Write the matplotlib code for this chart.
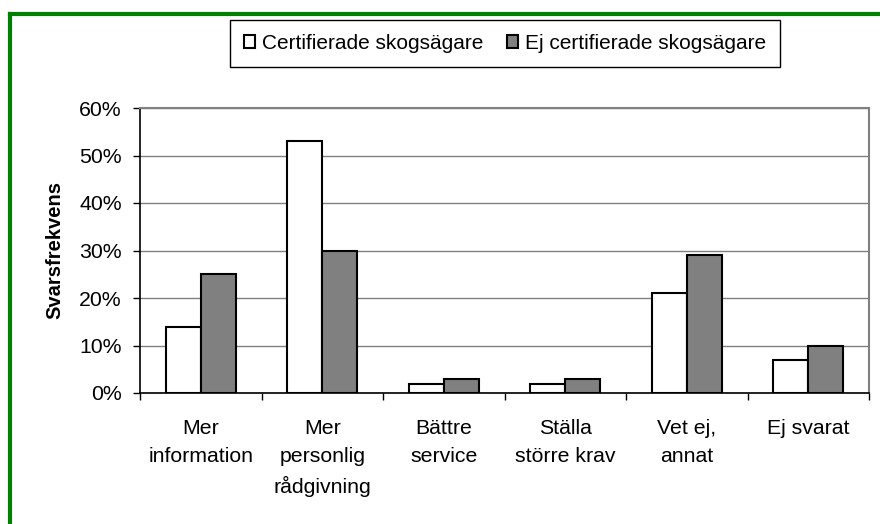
import matplotlib
matplotlib.use("Agg")
import matplotlib.pyplot as plt
import numpy as np
from matplotlib.lines import Line2D
from matplotlib.ticker import FixedLocator, PercentFormatter

categories = ["Mer\ninformation", "Mer\npersonlig\nrådgivning", "Bättre\nservice",
              "Ställa\nstörre krav", "Vet ej,\nannat", "Ej svarat"]
certified = [14, 53, 2, 2, 21, 7]
not_certified = [25, 30, 3, 3, 29, 10]
series_names = ["Certifierade skogsägare", "Ej certifierade skogsägare"]
y_ticks = [0, 10, 20, 30, 40, 50, 60]

plt.rcParams['font.family'] = ['Liberation Sans', 'DejaVu Sans']

fig = plt.figure(figsize=(8.8, 5.24), dpi=100)
ax = fig.add_axes([140/880, 1-393/524, (869-140)/880, (393-108)/524])

x = np.arange(len(categories))
w = 0.288
b1 = ax.bar(x - w/2, certified, w, color="white", edgecolor="black", linewidth=1.5,
            label=series_names[0], zorder=3)
b2 = ax.bar(x + w/2, not_certified, w, color="#808080", edgecolor="black", linewidth=1.5,
            label=series_names[1], zorder=3)

ax.set_xlim(-0.5, len(categories) - 0.5)
ax.set_ylim(0, 60)
ax.yaxis.set_major_locator(FixedLocator(y_ticks))
ax.yaxis.set_major_formatter(PercentFormatter(decimals=0))
ax.yaxis.grid(True, color="#808080", linewidth=1, zorder=0)

ax.set_xticks(x)
ax.set_xticklabels(categories, fontsize=15.3, linespacing=1.58, va="top")
ax.tick_params(axis="x", which="major", length=0, pad=19)
ax.set_xticks(np.arange(-0.5, len(categories)), minor=True)
ax.tick_params(axis="x", which="minor", length=5, width=1, color="black", direction="out")
ax.tick_params(axis="y", length=5, width=1, pad=8, labelsize=15.3, direction="out")

for s in ["top", "right"]:
    ax.spines[s].set_color("#808080")
    ax.spines[s].set_linewidth(1.5)
ax.spines["left"].set_color("black")
ax.spines["bottom"].set_color("black")
ax.spines["left"].set_linewidth(1.2)
ax.spines["bottom"].set_linewidth(1.2)

fig.text(55/880, 1-250/524, "Svarsfrekvens", rotation=90, fontsize=14.5, fontweight="bold",
         ha="center", va="center")

leg = fig.legend(handles=[b1, b2], labels=series_names, loc="center",
                 bbox_to_anchor=(505/880, 1-43.5/524), ncol=2, fontsize=15,
                 frameon=True, fancybox=False, edgecolor="black", framealpha=1,
                 handlelength=0.55, handleheight=0.55, handletextpad=0.35,
                 columnspacing=1.1, borderpad=0.65, borderaxespad=0)
leg.get_frame().set_linewidth(1)

green = "#008000"
fig.add_artist(Line2D([10/880, 10/880], [-0.05, 1-14/524], transform=fig.transFigure,
                      color=green, linewidth=3, solid_capstyle="projecting"))
fig.add_artist(Line2D([10/880, 1.05], [1-14/524, 1-14/524], transform=fig.transFigure,
                      color=green, linewidth=3, solid_capstyle="projecting"))

fig.savefig("out.png", dpi=100)
